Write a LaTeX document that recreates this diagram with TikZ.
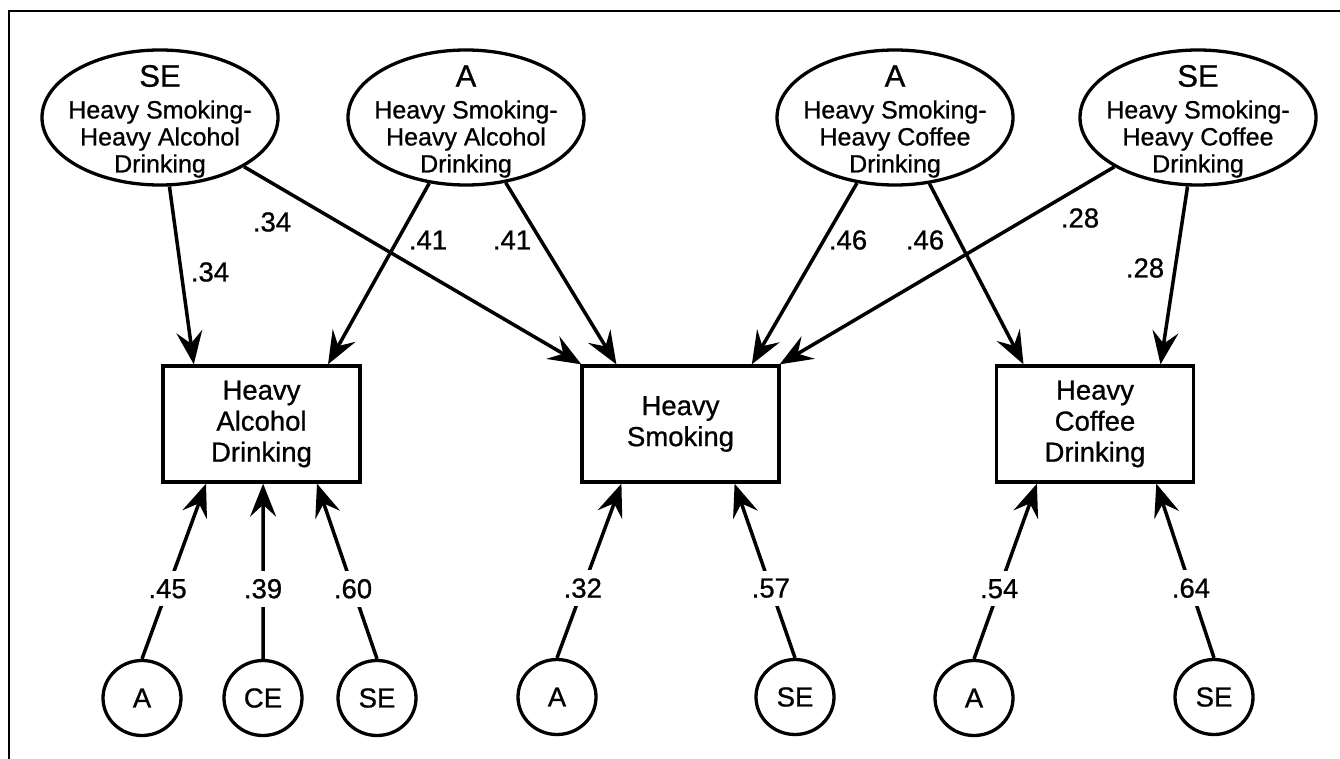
\documentclass[tikz,border=0pt]{standalone}
\usepackage{fontspec}
\setmainfont{Liberation Sans}[FakeBold=0.8]
\usetikzlibrary{shapes.geometric,arrows.meta,calc}
\begin{document}
\begin{tikzpicture}[x=1pt,y=-1pt,
  lat/.style={draw, ellipse, line width=3.3pt, minimum width=236pt, minimum height=135pt, inner sep=0pt},
  hdr/.style={font=\fontsize{31}{32}\selectfont, inner sep=0pt},
  body/.style={align=center, font=\fontsize{25}{27}\selectfont, inner sep=0pt},
  obs/.style={draw, rectangle, line width=3.3pt, minimum width=197pt, minimum height=116pt, align=center, font=\fontsize{27.5}{31}\selectfont},
  err/.style={draw, ellipse, line width=3.3pt, minimum width=78pt, minimum height=75pt, inner sep=0pt, font=\fontsize{27.5}{30}\selectfont},
  arr/.style={line width=3.5pt, -{Stealth[length=33pt,width=26pt,inset=12pt]}},
  coef/.style={font=\fontsize{27.5}{30}\selectfont, inner sep=0pt},
  coefw/.style={font=\fontsize{27.5}{30}\selectfont, fill=white, inner xsep=3pt, inner ysep=8pt}
]
\useasboundingbox (0,0) rectangle (1340,759);
\draw[line width=2pt] (9,759) -- (9,11) -- (1340,11);

% latent ellipses
\node[lat] (e1) at (160,117.5) {};
\node[lat] (e2) at (466,117.5) {};
\node[lat] (e3) at (895,117.5) {};
\node[lat] (e4) at (1198,117.5) {};
\node[hdr] (e1h) at (160,76) {SE};
\node[hdr] (e2h) at (466,76) {A};
\node[hdr] (e3h) at (895,76) {A};
\node[hdr] (e4h) at (1198,76) {SE};
\node[body] (e1b) at (160,139) {Heavy Smoking-\\Heavy Alcohol\\Drinking};
\node[body] (e2b) at (466,139) {Heavy Smoking-\\Heavy Alcohol\\Drinking};
\node[body] (e3b) at (895,139) {Heavy Smoking-\\Heavy Coffee\\Drinking};
\node[body] (e4b) at (1198,139) {Heavy Smoking-\\Heavy Coffee\\Drinking};

% observed boxes
\node[obs] (b1) at (261.5,424) {Heavy\\Alcohol\\Drinking};
\node[obs] (b2) at (680.5,424) {Heavy\\Smoking};
\node[obs] (b3) at (1095,424) {Heavy\\Coffee\\Drinking};

% error circles
\node[err] (a1) at (142,698) {A};
\node[err] (c1) at (263,698) {CE};
\node[err] (s1) at (377,698) {SE};
\node[err] (a2) at (557,697) {A};
\node[err] (s2) at (795,697) {SE};
\node[err] (a3) at (974,698) {A};
\node[err] (s3) at (1214,697) {SE};

% top paths
\draw[arr] (e1) -- ($(b1.north west)!0.162!(b1.north east)$);
\draw[arr] (e1) -- ($(b2.north west)!0.005!(b2.north east)$);
\draw[arr] (e2) -- ($(b1.north west)!0.832!(b1.north east)$);
\draw[arr] (e2) -- ($(b2.north west)!0.18!(b2.north east)$);
\draw[arr] (e3) -- ($(b2.north west)!0.856!(b2.north east)$);
\draw[arr] (e3) -- ($(b3.north west)!0.143!(b3.north east)$);
\draw[arr] (e4) -- ($(b2.north west)!0.995!(b2.north east)$);
\draw[arr] (e4) -- ($(b3.north west)!0.827!(b3.north east)$);

\node[coef] (l1) at (210,272) {.34};
\node[coef] (l2) at (272,222) {.34};
\node[coef] (l3) at (428,240) {.41};
\node[coef] (l4) at (512,240) {.41};
\node[coef] (l5) at (848,240) {.46};
\node[coef] (l6) at (925,240) {.46};
\node[coef] (l7) at (1080,218) {.28};
\node[coef] (l8) at (1145,268) {.28};

% bottom paths
\draw[arr] (a1.north) -- node[coefw, pos=0.4] (m1) {.45} ($(b1.south west)!0.223!(b1.south east)$);
\draw[arr] (c1.north) -- node[coefw, pos=0.4] (m2) {.39} ($(b1.south west)!0.508!(b1.south east)$);
\draw[arr] (s1.north) -- node[coefw, pos=0.4] (m3) {.60} ($(b1.south west)!0.777!(b1.south east)$);
\draw[arr] (a2.north) -- node[coefw, pos=0.4] (m4) {.32} ($(b2.south west)!0.205!(b2.south east)$);
\draw[arr] (s2.north) -- node[coefw, pos=0.4] (m5) {.57} ($(b2.south west)!0.77!(b2.south east)$);
\draw[arr] (a3.north) -- node[coefw, pos=0.4] (m6) {.54} ($(b3.south west)!0.21!(b3.south east)$);
\draw[arr] (s3.north) -- node[coefw, pos=0.4] (m7) {.64} ($(b3.south west)!0.806!(b3.south east)$);
\end{tikzpicture}
\end{document}
